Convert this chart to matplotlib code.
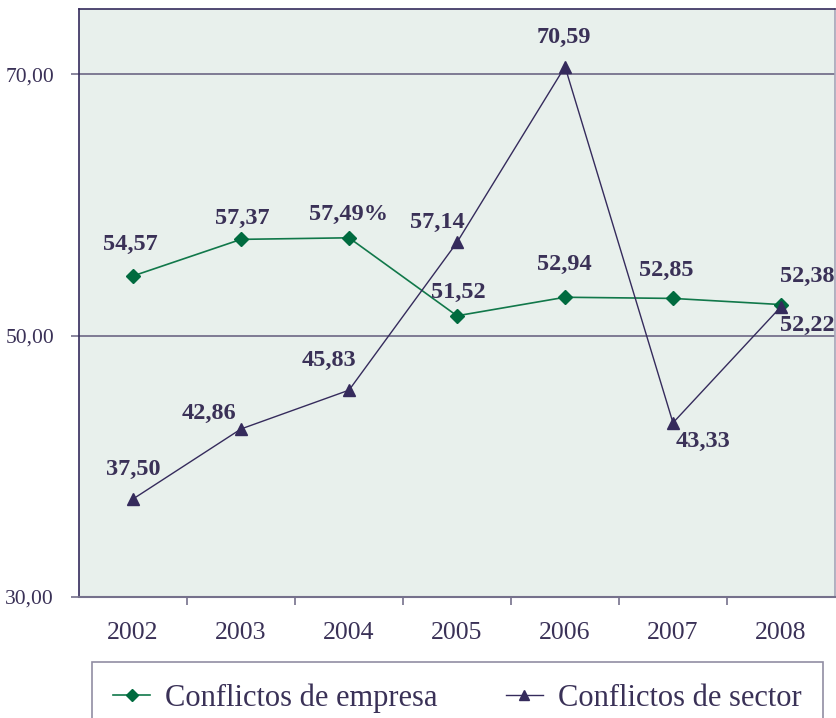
import numpy as np
import matplotlib.pyplot as plt
from matplotlib.ticker import FixedLocator, FuncFormatter

# Datos
years = ['2002', '2003', '2004', '2005', '2006', '2007', '2008']
empresa = [54.57, 57.37, 57.49, 51.52, 52.94, 52.85, 52.38]
sector = [37.50, 42.86, 45.83, 57.14, 70.59, 43.33, 52.22]
empresa_txt = ['54,57', '57,37', '57,49%', '51,52', '52,94', '52,85', '52,38']
sector_txt = ['37,50', '42,86', '45,83', '57,14', '70,59', '43,33', '52,22']

# desplazamiento de las etiquetas (pixeles)
empresa_off = [(-3, 31), (1, 21), (0, 23), (1, 23), (-1, 33), (-7, 28), (26, 28)]
sector_off = [(0, 30), (-32, 16), (-20, 30), (-20, 20), (-1, 29), (30, -19), (26, -19)]

txt = '#3a3157'
verde = '#006b3f'
morado = '#352b5c'
gris = '#75718c'

plt.rcParams['font.family'] = ['Liberation Serif', 'DejaVu Serif']

fig = plt.figure(figsize=(8.36, 7.18), dpi=100)
ax = fig.add_axes([79/836, 1 - 597/718, 756/836, 588/718])
ax.set_facecolor('#e8f0ec')

x = np.arange(len(years))
ax.plot(x, empresa, color='#11784a', lw=1.2, marker='D', ms=7.5,
        mfc=verde, mec=verde, label='Conflictos de empresa', zorder=3)
ax.plot(x, sector, color=morado, lw=1.0, marker='^', ms=9,
        mfc=morado, mec=morado, label='Conflictos de sector', zorder=3)

for i in range(len(years)):
    ax.annotate(empresa_txt[i], (x[i], empresa[i]), xytext=empresa_off[i],
                textcoords='offset pixels', ha='center', va='center',
                fontsize=17.5, fontweight='bold', color=txt)
    ax.annotate(sector_txt[i], (x[i], sector[i]), xytext=sector_off[i],
                textcoords='offset pixels', ha='center', va='center',
                fontsize=17.5, fontweight='bold', color=txt)

ax.set_xlim(-0.5, 6.5)
ax.set_ylim(30, 75)

for yv in [50, 70]:
    ax.axhline(yv, color=gris, lw=1.3, zorder=1)

ax.set_xticks(x)
ax.set_xticklabels(years)
ax.xaxis.set_minor_locator(FixedLocator(np.arange(0.5, 6.5, 1)))
ax.tick_params(axis='x', which='major', length=0, pad=18, labelsize=18.5, labelcolor=txt)
ax.tick_params(axis='x', which='minor', length=6, width=1.2, color=gris, direction='out')

ax.set_yticks([30, 50, 70])
ax.yaxis.set_major_formatter(FuncFormatter(lambda v, p: f'{v:.2f}'.replace('.', ',')))
ax.tick_params(axis='y', length=6, width=1.2, color=gris, pad=12, labelsize=15.5, labelcolor=txt)

ax.spines['left'].set_color(morado)
ax.spines['left'].set_linewidth(1.2)
ax.spines['top'].set_color(morado)
ax.spines['top'].set_linewidth(1.2)
ax.spines['bottom'].set_color(gris)
ax.spines['bottom'].set_linewidth(1.5)
ax.spines['right'].set_color('#a7a4b8')
ax.spines['right'].set_linewidth(1.2)

leg = fig.legend(loc='upper left', bbox_to_anchor=(92/836, 1 - 662/718 - 0.1, 731/836, 0.1),
                 mode='expand', ncol=2, fontsize=22, frameon=True, fancybox=False,
                 handlelength=1.2, handletextpad=0.5, borderpad=0.7, borderaxespad=0,
                 markerscale=0.8)
leg.get_frame().set_edgecolor(gris)
leg.get_frame().set_linewidth(1.2)
for t in leg.get_texts():
    t.set_color(txt)

fig.savefig('out.png', dpi=100)
